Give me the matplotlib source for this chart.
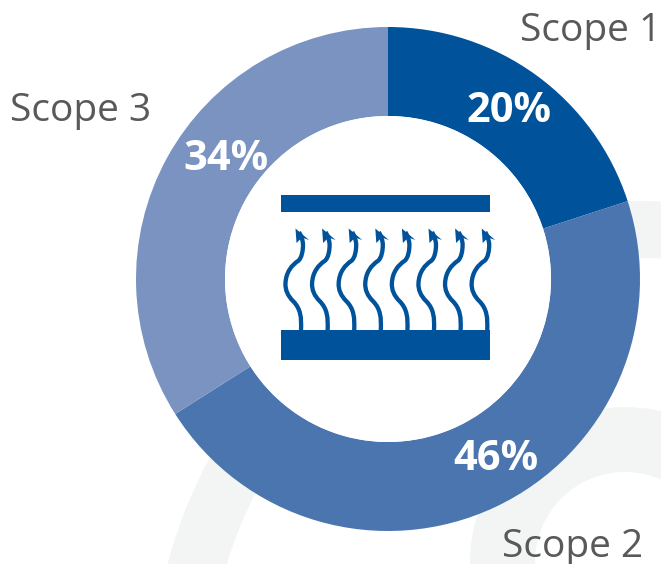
import matplotlib.pyplot as plt
from matplotlib.patches import Circle, PathPatch, Polygon, Rectangle, Wedge
from matplotlib.path import Path

names = ['Scope 1', 'Scope 2', 'Scope 3']
shares = [20, 46, 34]
colors = ['#00539b', '#4b75af', '#7a93c1']
pct_labels = ['20%', '46%', '34%']

name_pos = [(591, 31), (573, 547), (81, 111)]
pct_pos = [(509, 112), (496, 460), (226, 160)]

plt.rcParams['font.family'] = ['Open Sans', 'DejaVu Sans']

fig = plt.figure(figsize=(6.61, 5.64), dpi=100)
ax = fig.add_axes([0, 0, 1, 1])

# pale swooshes behind the ring
swoosh = '#f3f5f4'
ax.add_patch(Wedge((640, 690), 489, 0, 360, width=57, fc=swoosh, ec='none', zorder=1))
ax.add_patch(Wedge((625, 562), 155, 0, 360, width=65, fc=swoosh, ec='none', zorder=1))

ax.pie(shares, colors=colors, center=(388, 279), radius=252, startangle=-90,
       counterclock=True, wedgeprops={'width': 89, 'linewidth': 0, 'zorder': 2})
ax.add_patch(Circle((388, 279), 163, fc='white', ec='none', zorder=2.5))

# heat-transfer icon in the hole
icon = '#00539b'
ax.add_patch(Rectangle((281, 195), 209, 17, fc=icon, ec='none', zorder=3))
ax.add_patch(Rectangle((281, 330), 209, 30, fc=icon, ec='none', zorder=3))

wave = [(301, 330),
        (301.5, 318), (301, 309), (293, 301),
        (288, 296), (285, 290), (285.5, 283),
        (286, 272), (292, 265), (298, 261),
        (302, 258), (303, 250), (303, 245),
        (303, 240), (301, 236), (299, 232)]
codes = [Path.MOVETO] + [Path.CURVE4] * 15
head = [(295.5, 228.5), (309, 240), (302, 237.5), (296.5, 243)]
for i in range(8):
    dx = i * 26.6
    ax.add_patch(PathPatch(Path([(x + dx, y) for x, y in wave], codes), fc='none', ec=icon,
                           lw=3.1, capstyle='butt', zorder=3))
    ax.add_patch(Polygon([(x + dx, y) for x, y in head], fc=icon, ec='none', zorder=3))

for name, (x, y) in zip(names, name_pos):
    ax.text(x, y, name, fontsize=28, color='#58595b', ha='center', va='center', zorder=4)
for label, (x, y) in zip(pct_labels, pct_pos):
    ax.text(x, y, label, fontsize=30, fontweight='bold', color='white', ha='center', va='center', zorder=4)

ax.set_xlim(0, 661)
ax.set_ylim(564, 0)
ax.set_aspect('auto')
ax.axis('off')

fig.savefig('out.png', dpi=100)
